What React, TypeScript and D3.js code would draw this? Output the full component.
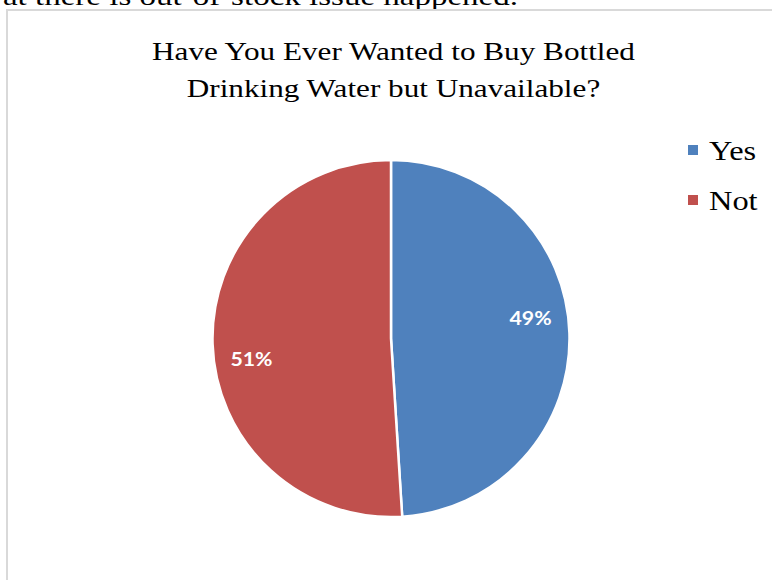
import React from "react";
import * as d3 from "d3";

const categories = ["Yes", "Not"];
const values = [49, 51];
const labels = ["49%", "51%"];
const colors = ["#4f81bd", "#c0504d"];
const titleLines = ["Have You Ever Wanted to Buy Bottled", "Drinking Water but Unavailable?"];
const topText = "at there is out-of-stock issue happened.";

export default function App() {
  const W = 772, H = 580;
  const cx = 391, cy = 338.5, r = 178.5;
  const pie = d3.pie<number>().sort(null).value((d) => d)(values);
  const arc = d3.arc<d3.PieArcDatum<number>>().innerRadius(0).outerRadius(r);
  const labelR = 141;
  const labelOffset = (-6.5 * Math.PI) / 180;
  const serif = "'Liberation Serif', 'Times New Roman', serif";
  const sx = 1.2;
  return (
    <svg
      width={W}
      height={H}
      style={{ position: "absolute", left: 0, top: 0, background: "#fff" }}
    >
      <text
        transform={`translate(518,5) scale(1.27,1)`}
        textAnchor="end"
        fontFamily={serif}
        fontSize={26}
        fill="#000"
      >
        {topText}
      </text>
      <rect x={7} y={10} width={W + 20} height={H + 20} fill="#fff" stroke="#d9d9d9" strokeWidth={2} />
      {titleLines.map((t, i) => (
        <text
          key={i}
          transform={`translate(393.5,${60 + i * 37}) scale(${sx},1)`}
          textAnchor="middle"
          fontFamily={serif}
          fontSize={26}
          fill="#000"
        >
          {t}
        </text>
      ))}
      <g transform={`translate(${cx},${cy})`}>
        {pie.map((p, i) => (
          <path key={i} d={arc(p) || ""} fill={colors[i]} stroke="#fff" strokeWidth={2.5} strokeLinejoin="round" />
        ))}
        {pie.map((p, i) => {
          const a = (p.startAngle + p.endAngle) / 2 + labelOffset;
          return (
            <text
              key={i}
              transform={`translate(${labelR * Math.sin(a)},${-labelR * Math.cos(a)}) scale(1.12,1)`}
              dy="0.35em"
              textAnchor="middle"
              fontFamily="Lato, 'Open Sans', sans-serif"
              fontWeight="bold"
              fontSize={19}
              fill="#fff"
            >
              {labels[i]}
            </text>
          );
        })}
      </g>
      {categories.map((c, i) => (
        <g key={c} transform={`translate(688,${145 + i * 50})`}>
          <rect x={0} y={0} width={10} height={10} fill={colors[i]} />
          <text transform={`translate(21,15) scale(${sx},1)`} fontFamily={serif} fontSize={27} fill="#000">
            {c}
          </text>
        </g>
      ))}
    </svg>
  );
}
